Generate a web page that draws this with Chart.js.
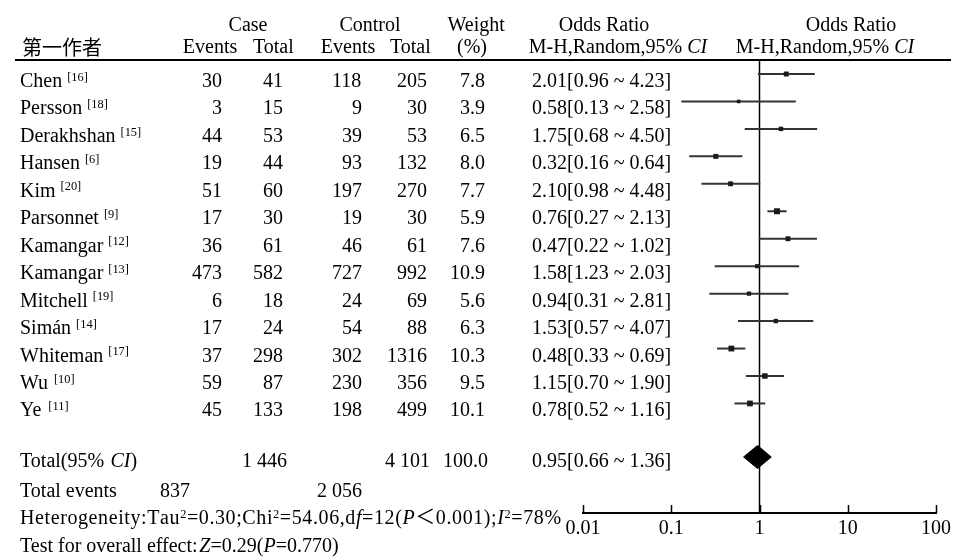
<!DOCTYPE html>
<html>
<head>
<meta charset="utf-8">
<script src="https://cdn.jsdelivr.net/npm/chart.js@4.4.1/dist/chart.umd.min.js"></script>
<style>
  html, body { margin: 0; padding: 0; background: #fff; }
  canvas { display: block; }
</style>
</head>
<body>
<canvas id="forest" width="955" height="557"></canvas>
<script>
// Studies (first author, reference number)
const authors = ['Chen', 'Persson', 'Derakhshan', 'Hansen', 'Kim', 'Parsonnet', 'Kamangar',
                 'Kamangar', 'Mitchell', 'Simán', 'Whiteman', 'Wu', 'Ye'];
const refs = [16, 18, 15, 6, 20, 9, 12, 13, 19, 14, 17, 10, 11];

// Case / control counts
const caseEvents = [30, 3, 44, 19, 51, 17, 36, 473, 6, 17, 37, 59, 45];
const caseTotal = [41, 15, 53, 44, 60, 30, 61, 582, 18, 24, 298, 87, 133];
const ctrlEvents = [118, 9, 39, 93, 197, 19, 46, 727, 24, 54, 302, 230, 198];
const ctrlTotal = [205, 30, 53, 132, 270, 30, 61, 992, 69, 88, 1316, 356, 499];

// Weight (%) and odds ratio with 95% CI
const weights = [7.8, 3.9, 6.5, 8.0, 7.7, 5.9, 7.6, 10.9, 5.6, 6.3, 10.3, 9.5, 10.1];
const oddsRatio = [2.01, 0.58, 1.75, 0.32, 2.10, 0.76, 0.47, 1.58, 0.94, 1.53, 0.48, 1.15, 0.78];
const ciLow = [0.96, 0.13, 0.68, 0.16, 0.98, 0.27, 0.22, 1.23, 0.31, 0.57, 0.33, 0.70, 0.52];
const ciHigh = [4.23, 2.58, 4.50, 0.64, 4.48, 2.13, 1.02, 2.03, 2.81, 4.07, 0.69, 1.90, 1.16];

// Study whose estimate is drawn on each plot row (top to bottom)
const markerStudy = [0, 1, 2, 3, 6, 7, 4, 8, 5, 9, 10, 11, 12];

// Pooled result
const pooledOR = 0.95, pooledLow = 0.66, pooledHigh = 1.36;
const totalCase = '1 446', totalCtrl = '4 101', totalWeight = '100.0';
const eventsCase = '837', eventsCtrl = '2 056';

// Axis ticks
const tickValues = [0.01, 0.1, 1, 10, 100];
const tickLabels = ['0.01', '0.1', '1', '10', '100'];

const FONT = '"Liberation Serif", "Times New Roman", "Noto Sans CJK SC", serif';
const SIZE = 20;
const Y_MIN = 0.49, Y_MAX = 16.99;
const POOLED_ROW = 14.95, DIAMOND_HALF = 0.42;

const fmt2 = v => v.toFixed(2);
const orText = (o, l, h) => `${fmt2(o)}[${fmt2(l)} ~ ${fmt2(h)}]`;

// Draw a sequence of text runs (plain / italic / superscript) starting at x;
// `spacing` adds extra px after every character.
function drawRuns(ctx, x, base, runs, align, spacing = 0) {
  const parts = runs.map(r => {
    const s = r.sup ? SIZE * 0.62 : SIZE;
    const f = `${r.it ? 'italic ' : ''}${s}px ${FONT}`;
    ctx.font = f;
    const chars = Array.from(r.t);
    const w = chars.reduce((a, c) => a + ctx.measureText(c).width + spacing, 0);
    return { r, f, chars, w };
  });
  const total = parts.reduce((a, p) => a + p.w, 0);
  let cx = align === 'center' ? x - total / 2 : align === 'right' ? x - total : x;
  for (const p of parts) {
    ctx.font = p.f;
    const y = base - (p.r.sup ? SIZE * 0.32 : 0);
    if (spacing === 0) {
      ctx.fillText(p.r.t, cx, y);
      cx += p.w;
    } else {
      for (const c of p.chars) {
        ctx.fillText(c, cx, y);
        cx += ctx.measureText(c).width + spacing;
      }
    }
  }
}
const T = t => ({ t });
const I = t => ({ t, it: true });
const S = t => ({ t, sup: true });

const tablePlugin = {
  id: 'forestTable',
  afterDraw(chart) {
    const ctx = chart.ctx;
    const ys = chart.scales.y, xs = chart.scales.x;
    const area = chart.chartArea;
    ctx.save();
    ctx.fillStyle = '#000';
    ctx.textBaseline = 'alphabetic';
    ctx.textAlign = 'left';

    // header
    drawRuns(ctx, 248, 31, [T('Case')], 'center');
    drawRuns(ctx, 370, 31, [T('Control')], 'center');
    drawRuns(ctx, 477, 31, [T('Weight')], 'center');
    drawRuns(ctx, 604, 31, [T('Odds Ratio')], 'center');
    drawRuns(ctx, 851, 31, [T('Odds Ratio')], 'center');
    drawRuns(ctx, 22, 55, [T('第一作者')], 'left');
    drawRuns(ctx, 210, 53, [T('Events')], 'center');
    drawRuns(ctx, 274, 53, [T('Total')], 'center');
    drawRuns(ctx, 348, 53, [T('Events')], 'center');
    drawRuns(ctx, 411, 53, [T('Total')], 'center');
    drawRuns(ctx, 472, 53, [T('(%)')], 'center');
    drawRuns(ctx, 618, 53, [T('M-H,Random,95% '), I('CI')], 'center');
    drawRuns(ctx, 825, 53, [T('M-H,Random,95% '), I('CI')], 'center');

    // top rule
    ctx.strokeStyle = '#000';
    ctx.lineWidth = 2;
    ctx.beginPath();
    ctx.moveTo(15, area.top);
    ctx.lineTo(951, area.top);
    ctx.stroke();

    // study rows
    authors.forEach((name, i) => {
      const base = ys.getPixelForValue(i + 1) + 13;
      drawRuns(ctx, 20, base, [T(name + ' '), S(`[${refs[i]}]`)], 'left');
      drawRuns(ctx, 222, base, [T(String(caseEvents[i]))], 'right');
      drawRuns(ctx, 283, base, [T(String(caseTotal[i]))], 'right');
      drawRuns(ctx, 362, base, [T(String(ctrlEvents[i]))], 'right');
      drawRuns(ctx, 427, base, [T(String(ctrlTotal[i]))], 'right');
      drawRuns(ctx, 485, base, [T(weights[i].toFixed(1))], 'right');
      drawRuns(ctx, 532, base, [T(orText(oddsRatio[i], ciLow[i], ciHigh[i]))], 'left');
    });

    // pooled rows
    const tb = ys.getPixelForValue(POOLED_ROW) + 10;
    drawRuns(ctx, 20, tb, [T('Total(95% '), I('CI'), T(')')], 'left');
    drawRuns(ctx, 287, tb, [T(totalCase)], 'right');
    drawRuns(ctx, 430, tb, [T(totalCtrl)], 'right');
    drawRuns(ctx, 488, tb, [T(totalWeight)], 'right');
    drawRuns(ctx, 532, tb, [T(orText(pooledOR, pooledLow, pooledHigh))], 'left');
    drawRuns(ctx, 20, tb + 30, [T('Total events')], 'left');
    drawRuns(ctx, 190, tb + 30, [T(eventsCase)], 'right');
    drawRuns(ctx, 362, tb + 30, [T(eventsCtrl)], 'right');
    drawRuns(ctx, 20, 524, [T('Heterogeneity:Tau'), S('2'), T('=0.30;Chi'), S('2'), T('=54.06,d'), I('f'),
      T('=12('), I('P'), T('＜0.001);'), I('I'), S('2'), T('=78%')], 'left', 0.6);
    drawRuns(ctx, 20, 552, [T('Test for overall effect:'), I('Z'), T('=0.29('), I('P'), T('=0.770)')], 'left');

    // axis tick marks (pointing up)
    ctx.lineWidth = 1.5;
    ctx.beginPath();
    tickValues.forEach(v => {
      const px = Math.round(xs.getPixelForValue(v)) + 0.5;
      ctx.moveTo(px, area.bottom);
      ctx.lineTo(px, area.bottom - 8);
    });
    ctx.stroke();
    ctx.restore();
  }
};

// whisker (CI) line for each plot row
const whiskers = markerStudy.map((s, r) => ({
  type: 'line',
  data: [{ x: ciLow[s], y: r + 1 }, { x: ciHigh[s], y: r + 1 }],
  borderColor: '#333',
  borderWidth: 2,
  pointRadius: 0,
  showLine: true,
  order: 2
}));

const datasets = [
  {
    type: 'line',
    data: [{ x: 1, y: Y_MIN }, { x: 1, y: Y_MAX }],
    borderColor: '#000',
    borderWidth: 1.5,
    pointRadius: 0,
    showLine: true,
    order: 3
  },
  ...whiskers,
  {
    type: 'scatter',
    data: markerStudy.map((s, r) => ({ x: oddsRatio[s], y: r + 1 })),
    pointStyle: 'rect',
    pointRadius: markerStudy.map(s => (2.2 + 0.35 * weights[s]) / Math.SQRT2),
    backgroundColor: '#1a1a1a',
    borderWidth: 0,
    order: 1
  },
  {
    type: 'line',
    data: [
      { x: pooledLow, y: POOLED_ROW },
      { x: pooledOR, y: POOLED_ROW - DIAMOND_HALF },
      { x: pooledHigh, y: POOLED_ROW },
      { x: pooledOR, y: POOLED_ROW + DIAMOND_HALF },
      { x: pooledLow, y: POOLED_ROW }
    ],
    borderColor: '#000',
    backgroundColor: '#000',
    borderWidth: 1,
    pointRadius: 0,
    showLine: true,
    fill: 'shape',
    tension: 0,
    order: 1
  }
];

new Chart(document.getElementById('forest'), {
  type: 'scatter',
  data: { datasets },
  options: {
    responsive: false,
    animation: false,
    devicePixelRatio: 1,
    layout: { padding: { left: 583, right: 17, top: 60, bottom: 0 } },
    plugins: { legend: { display: false }, tooltip: { enabled: false } },
    scales: {
      x: {
        type: 'logarithmic',
        position: 'bottom',
        min: 0.01,
        max: 100,
        afterBuildTicks: scale => { scale.ticks = tickValues.map(v => ({ value: v })); },
        afterFit: scale => { scale.height = 44; },
        ticks: {
          callback: (v, i) => tickLabels[i],
          font: { family: FONT, size: SIZE },
          color: '#000',
          padding: 4,
          maxRotation: 0,
          autoSkip: false
        },
        grid: { display: false, drawTicks: false },
        border: { display: true, color: '#000', width: 2 }
      },
      y: {
        type: 'linear',
        reverse: true,
        min: Y_MIN,
        max: Y_MAX,
        display: false
      }
    }
  },
  plugins: [tablePlugin]
});
</script>
</body>
</html>
